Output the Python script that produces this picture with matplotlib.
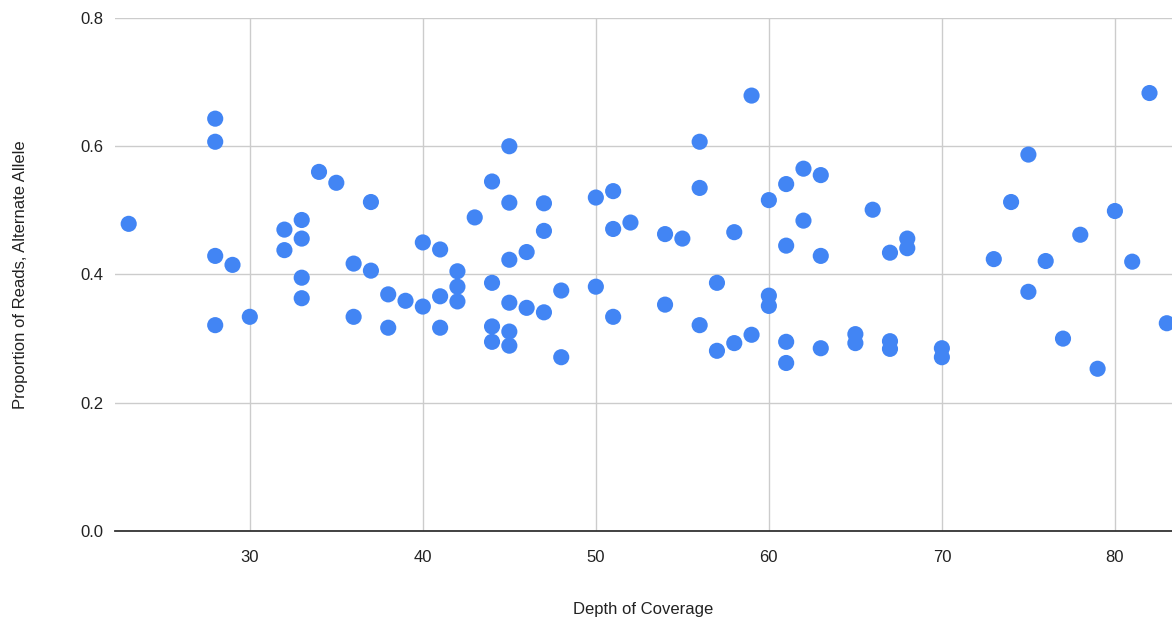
import matplotlib.pyplot as plt

# depth of coverage and proportion of reads with the alternate allele
depth = [23,
         28, 28, 28, 28,
         29, 30,
         32, 32,
         33, 33, 33, 33,
         34, 35,
         36, 36,
         37, 37,
         38, 38,
         39,
         40, 40,
         41, 41, 41,
         42, 42, 42,
         43,
         44, 44, 44, 44,
         45, 45, 45, 45, 45, 45,
         46, 46,
         47, 47, 47,
         48, 48,
         50, 50,
         51, 51, 51,
         52,
         54, 54,
         55,
         56, 56, 56,
         57, 57,
         58, 58,
         59, 59,
         60, 60, 60,
         61, 61, 61, 61,
         62, 62,
         63, 63, 63,
         65, 65,
         66,
         67, 67, 67,
         68, 68,
         70, 70,
         73, 74,
         75, 75,
         76, 77, 78, 79, 80, 81, 82, 83]

proportion = [0.479,
              0.643, 0.607, 0.429, 0.321,
              0.415, 0.334,
              0.470, 0.438,
              0.485, 0.456, 0.395, 0.363,
              0.560, 0.543,
              0.417, 0.334,
              0.513, 0.406,
              0.369, 0.317,
              0.359,
              0.450, 0.350,
              0.439, 0.366, 0.317,
              0.405, 0.381, 0.358,
              0.489,
              0.545, 0.387, 0.319, 0.295,
              0.600, 0.512, 0.423, 0.356, 0.311, 0.289,
              0.435, 0.348,
              0.511, 0.468, 0.341,
              0.375, 0.271,
              0.520, 0.381,
              0.530, 0.471, 0.334,
              0.481,
              0.463, 0.353,
              0.456,
              0.607, 0.535, 0.321,
              0.387, 0.281,
              0.466, 0.293,
              0.679, 0.306,
              0.516, 0.367, 0.351,
              0.541, 0.445, 0.295, 0.262,
              0.565, 0.484,
              0.555, 0.429, 0.285,
              0.307, 0.293,
              0.501,
              0.434, 0.296, 0.284,
              0.456, 0.441,
              0.285, 0.271,
              0.424, 0.513,
              0.587, 0.373,
              0.421, 0.300, 0.462, 0.253, 0.499, 0.420, 0.683, 0.324]

y_ticks = [0.0, 0.2, 0.4, 0.6, 0.8]
x_ticks = [30, 40, 50, 60, 70, 80]

plt.rcParams['font.family'] = ['Liberation Sans', 'DejaVu Sans']

fig = plt.figure(figsize=(11.72, 6.29), dpi=100)
ax = fig.add_axes([0.098, 0.1558, 0.902, 0.8156])

ax.scatter(depth, proportion, s=135, color='#4285F4', edgecolors='none',
           zorder=3, clip_on=False)

ax.set_xlim(22.2, 83.3)
ax.set_ylim(0, 0.8)
ax.set_xticks(x_ticks)
ax.set_yticks(y_ticks)
ax.set_yticklabels([f'{v:.1f}' for v in y_ticks])

ax.grid(True, color='#cccccc', linewidth=1)
ax.set_axisbelow(True)
for side in ['top', 'right', 'left']:
    ax.spines[side].set_visible(False)
ax.spines['bottom'].set_color('#333333')
ax.spines['bottom'].set_linewidth(1.3)
ax.spines['bottom'].set_zorder(2)

ax.tick_params(axis='both', length=0, labelsize=12, labelcolor='#222222')
ax.tick_params(axis='x', pad=14)
ax.tick_params(axis='y', pad=8)

ax.set_xlabel('Depth of Coverage', fontsize=12, color='#222222', labelpad=26)
ax.set_ylabel('Proportion of Reads, Alternate Allele', fontsize=12,
              color='#222222', labelpad=38)

fig.savefig('out.png', dpi=100)
